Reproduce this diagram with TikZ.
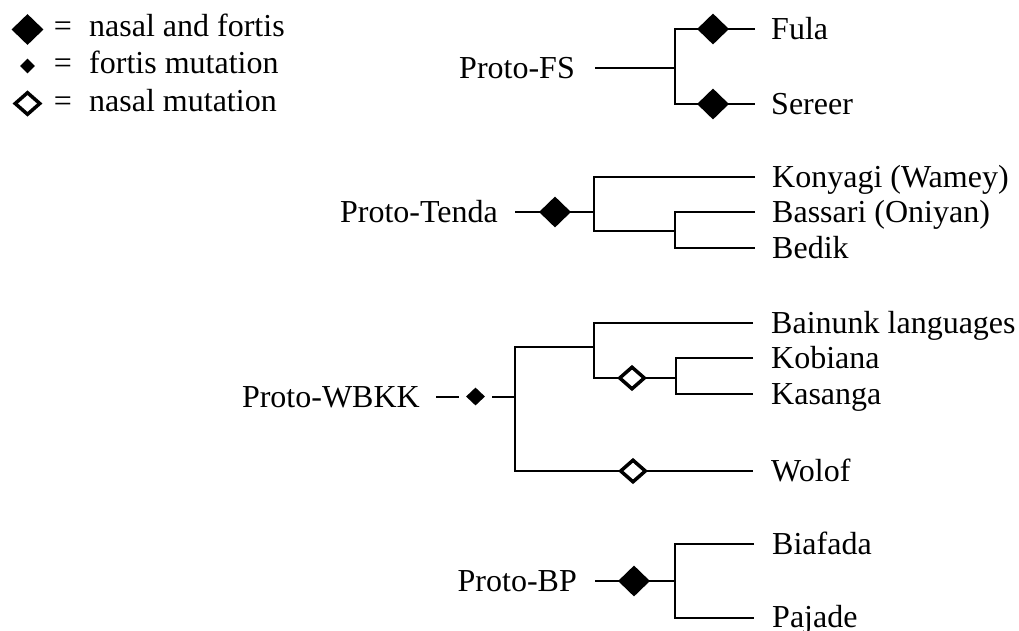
\documentclass[tikz,border=0pt]{standalone}
\usepackage{fontspec}
\setmainfont{Liberation Serif}
\usetikzlibrary{shapes.geometric}
\begin{document}
\begin{tikzpicture}[x=1pt,y=-1pt,
  lbl/.style={font=\fontsize{32}{38}\selectfont, inner sep=0pt},
  lft/.style={lbl, anchor=base east},
  rgt/.style={lbl, anchor=base west},
  bigdia/.style={diamond, fill=black, draw=none, inner sep=0pt, minimum width=32pt, minimum height=31pt},
  smalldia/.style={diamond, fill=black, draw=none, inner sep=0pt, minimum width=19pt, minimum height=18pt},
  opendia/.style={diamond, draw=black, fill=white, line width=3.5pt, inner sep=0pt, minimum width=26pt, minimum height=23pt},
  conn/.style={line width=2pt, line join=miter},
]
\useasboundingbox (0,0) rectangle (1019,630);

% ---------- legend ----------
\node[bigdia] (lg1) at (27.5,29.5) {};
\node[lbl, anchor=base] (eq1) at (63,36) {=};
\node[rgt] (lt1) at (89,36) {nasal and fortis};
\node[smalldia, minimum width=15pt, minimum height=15pt] (lg2) at (27.5,66) {};
\node[lbl, anchor=base] (eq2) at (63,73) {=};
\node[rgt] (lt2) at (89,73) {fortis mutation};
\node[opendia] (lg3) at (27.5,103.5) {};
\node[lbl, anchor=base] (eq3) at (63,111) {=};
\node[rgt] (lt3) at (89,111) {nasal mutation};

% ---------- Proto-FS ----------
\node[lft] (pfs) at (575,78) {Proto-FS};
\coordinate (fs0) at (595,68);
\coordinate (fsj) at (675,68);
\coordinate (fsa) at (675,29);
\coordinate (fsb) at (675,104);
\node[rgt] (fula) at (771,39) {Fula};
\node[rgt] (sereer) at (771,114) {Sereer};
\coordinate (fse1) at (755,29);
\coordinate (fse2) at (755,104);
\draw[conn] (fs0) -- (fsj);
\draw[conn] (fse1) -- (fsa) -- (fsb) -- (fse2);
\node[bigdia] (fsd1) at (713,29) {};
\node[bigdia] (fsd2) at (713,104) {};

% ---------- Proto-Tenda ----------
\node[lft] (pt) at (498,222) {Proto-Tenda};
\coordinate (t0) at (515,212);
\coordinate (tj) at (594,212);
\coordinate (ta) at (594,177);
\coordinate (tb) at (594,231);
\coordinate (tc) at (675,231);
\coordinate (td) at (675,212);
\coordinate (te) at (675,248);
\node[rgt] (kon) at (772,187) {Konyagi (Wamey)};
\node[rgt] (bas) at (772,222) {Bassari (Oniyan)};
\node[rgt] (bed) at (772,258) {Bedik};
\coordinate (kone) at (755,177);
\coordinate (base) at (755,212);
\coordinate (bede) at (755,248);
\draw[conn] (t0) -- (tj);
\draw[conn] (kone) -- (ta) -- (tb) -- (tc);
\draw[conn] (base) -- (td) -- (te) -- (bede);
\node[bigdia] (td1) at (555,212) {};

% ---------- Proto-WBKK ----------
\node[lft] (pw) at (420,407) {Proto-WBKK};
\node[smalldia] (wd0) at (475.5,396.5) {};
\coordinate (w0) at (436,397);
\coordinate (w1) at (459,397);
\coordinate (w2) at (492,397);
\coordinate (wj) at (515,397);
\coordinate (wa) at (515,347);
\coordinate (wb) at (515,471);
\coordinate (wc) at (594,347);
\coordinate (wd) at (594,323);
\coordinate (we) at (594,378);
\coordinate (wf) at (676,378);
\coordinate (wg) at (676,358);
\coordinate (wh) at (676,394);
\node[rgt] (bai) at (771,333) {Bainunk languages};
\node[rgt] (kob) at (771,368) {Kobiana};
\node[rgt] (kas) at (771,404) {Kasanga};
\node[rgt] (wol) at (771,481) {Wolof};
\coordinate (baie) at (753,323);
\coordinate (kobe) at (753,358);
\coordinate (kase) at (753,394);
\coordinate (wole) at (753,471);
\draw[conn] (w0) -- (w1);
\draw[conn] (w2) -- (wj);
\draw[conn] (wc) -- (wa) -- (wb) -- (wole);
\draw[conn] (baie) -- (wd) -- (we) -- (wf);
\draw[conn] (kobe) -- (wg) -- (wh) -- (kase);
\node[opendia] (wd1) at (632,378) {};
\node[opendia] (wd2) at (633,471) {};

% ---------- Proto-BP ----------
\node[lft] (pbp) at (577,591) {Proto-BP};
\coordinate (b0) at (595,581);
\coordinate (bj) at (675,581);
\coordinate (ba) at (675,544);
\coordinate (bb) at (675,618);
\node[rgt] (bia) at (772,554) {Biafada};
\node[rgt] (paj) at (772,627) {Pajade};
\coordinate (biae) at (754,544);
\coordinate (paje) at (754,618);
\draw[conn] (b0) -- (bj);
\draw[conn] (biae) -- (ba) -- (bb) -- (paje);
\node[bigdia] (bd1) at (634,581) {};
\end{tikzpicture}
\end{document}
